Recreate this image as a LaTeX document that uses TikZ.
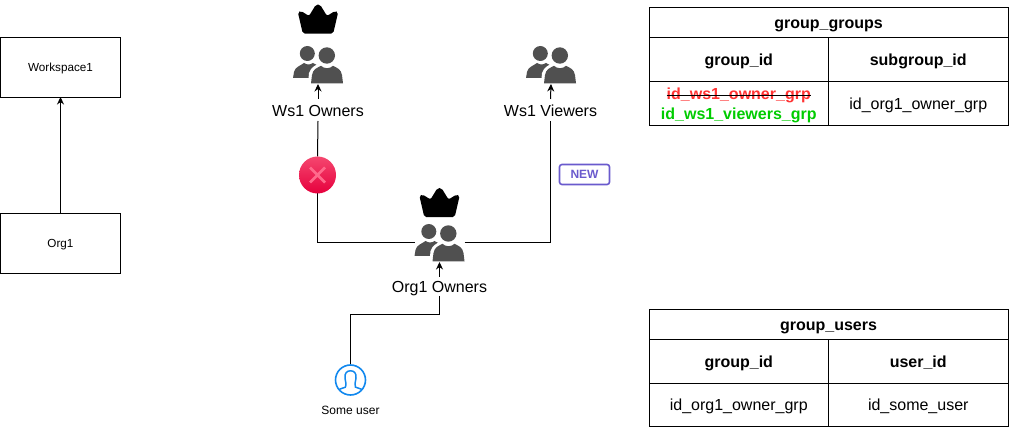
\documentclass[tikz,border=0pt]{standalone}
\usepackage{fontspec}
\setmainfont{Liberation Sans}
\usetikzlibrary{arrows.meta}
\definecolor{usergray}{HTML}{505050}
\definecolor{delred}{HTML}{FF3333}
\definecolor{addgreen}{HTML}{00CC00}
\definecolor{newpurple}{HTML}{6A5ACD}
\definecolor{userblue}{HTML}{1188EE}
\definecolor{xtop}{HTML}{F5476F}
\definecolor{xbottom}{HTML}{E6003D}
\definecolor{xstroke}{HTML}{FF6A8C}
\newcommand{\fs}[1]{\fontsize{#1}{#1}\selectfont}
\newsavebox{\strikebox}
\tikzset{
  x=1pt,y=-1pt,
  every node/.style={inner sep=0pt,outer sep=0pt},
  conn/.style={draw=black,line width=1pt},
  arr/.style={conn,-{Stealth[length=7.5pt,width=7pt]}},
  boxnode/.style={draw=black,line width=0.9pt,minimum width=120pt,minimum height=60pt,font=\fs{11.7},text height=9pt,text depth=0pt},
  lbl/.style={font=\fs{16},text height=13pt,text depth=0pt},
  iconbox/.style={minimum width=50pt,minimum height=38pt},
  cell/.style={draw=black,line width=0.9pt,minimum height=44pt,minimum width=179.5pt,font=\fs{16},text height=15pt,text depth=3pt},
  boldcell/.style={cell,font=\bfseries\fs{16},text height=16pt,text depth=3pt},
  headcell/.style={draw=black,line width=0.9pt,minimum height=30pt,minimum width=359pt,font=\bfseries\fs{16},text height=16pt,text depth=3pt},
  crown/.pic={
    \fill[black,rounded corners=2pt]
      (-15.2,14.6) -- (-20.2,-7) -- (-17,-8) -- (-9,-3) -- (-2,-14.5) -- (2,-14.5) -- (9,-3) -- (17,-8) -- (20.2,-7) -- (15.2,14.6) -- cycle;
  },
  usersicon/.pic={
    \fill[usergray] (-10.7,-11.5) circle (7.5);
    \fill[usergray] (-25,13) -- (-24,7) .. controls (-23,2) and (-18,1) .. (-14,-2) .. controls (-11,0) and (-8,0) .. (-5,-2) .. controls (-1,0) and (3,2) .. (5,6) -- (5,13) -- cycle;
    \fill[white] (8.8,-9.5) circle (10);
    \fill[white] (-10,19) -- (-9,8) .. controls (-7,2) and (-3,1) .. (1,-2) -- (16,-2) .. controls (21,0) and (25,3) .. (27,8) -- (27,19) -- cycle;
    \fill[usergray] (8.8,-9.5) circle (8.2);
    \fill[usergray] (-7,18.3) -- (-6,10) .. controls (-5,4) and (-1,3) .. (3,0.8) .. controls (6,4) and (12,4) .. (15,0.8) .. controls (19,3) and (23,4) .. (24,10) -- (25,18.3) -- cycle;
  }
}
\begin{document}
\begin{tikzpicture}
\useasboundingbox (0,0) rectangle (1009,427);

% left boxes
\node[boxnode] (ws) at (60.5,67) {Workspace1};
\node[boxnode] (org) at (60.5,243) {Org1};
\draw[arr] (org) -- (ws);

% group icons and labels
\node[iconbox] (wsoicon) at (318,65) {};
\node[iconbox] (wsvicon) at (551,65) {};
\node[iconbox] (orgicon) at (439.5,243) {};
\pic at (318,19) {crown};
\pic at (318,65) {usersicon};
\pic at (551,65) {usersicon};
\pic at (439.5,202.5) {crown};
\pic at (439.5,243) {usersicon};

\node[lbl,minimum height=22pt] (wsolbl) at (318,110) {Ws1 Owners};
\node[lbl,minimum height=22pt] (wsvlbl) at (550.5,110) {Ws1 Viewers};
\node[lbl,minimum height=19pt] (orglbl) at (439.5,286.5) {Org1 Owners};

\draw[arr] (wsolbl.north) -- (wsoicon.south);
\draw[arr] (wsvlbl.north) -- (wsvicon.south);
\draw[arr] (orglbl.north) -- (orgicon.south);

% removed link
\node[circle,minimum size=37pt] (xmark) at (317.5,175) {};
\coordinate (cornerL) at (317.5,243);
\coordinate (cornerR) at (550.5,243);
\draw[conn] (wsolbl.south) -- (xmark.north);
\draw[conn] (xmark.south) -- (cornerL) -- (orgicon.west);
\draw[conn] (orgicon.east) -- (cornerR) -- (wsvlbl.south);
\shade[top color=xtop,bottom color=xbottom] (xmark.center) circle (18.5);
\draw[line width=2.8pt,color=xstroke] (310,167.5) -- (325,182.5) (325,167.5) -- (310,182.5);

% new badge
\node[draw=newpurple,line width=1.6pt,rounded corners=2.5pt,minimum width=50pt,minimum height=20pt,text=newpurple,font=\bfseries\fs{12}] (newbadge) at (584.5,174.5) {NEW};

% user
\node[circle,minimum size=31pt] (usr) at (350.5,380) {};
\node[font=\fs{12},anchor=base] (usrlbl) at (350.5,414) {Some user};
\coordinate (userA) at (439.5,315);
\coordinate (userB) at (350.5,315);
\draw[conn] (orglbl.south) -- (userA) -- (userB) -- (usr.north);
\begin{scope}
\clip (350.5,380) circle (15);
\draw[userblue,line width=1.5pt] (345.7,387) .. controls (346.5,384) and (345.5,382) .. (345,378) .. controls (344.5,373) and (347,370.8) .. (350.5,370.8) .. controls (354,370.8) and (356.5,373) .. (356,378) .. controls (355.5,382) and (354.5,384) .. (355.3,387) .. controls (357,388) and (361,388.5) .. (366,391.5);
\draw[userblue,line width=1.5pt] (345.7,387) .. controls (344,388) and (340,388.5) .. (335,391.5);
\end{scope}
\draw[userblue,line width=1.6pt] (usr.center) circle (15);

% table group_groups
\node[headcell] (gghead) at (828.5,22) {group\_groups};
\node[boldcell] (ggc1) at (738.75,59) {group\_id};
\node[boldcell] (ggc2) at (918.25,59) {subgroup\_id};
\node[cell,minimum height=44.3pt] (ggv1) at (738.75,103.2) {};
\node[cell,minimum height=44.3pt] (ggv2) at (918.25,103.2) {id\_org1\_owner\_grp};
\node[anchor=base,font=\bfseries\fs{16}] (ggdel) at (738.75,100) {\sbox{\strikebox}{\textcolor{delred}{id\_ws1\_owner\_grp}}\rlap{\usebox{\strikebox}}\rule[0.25em]{\wd\strikebox}{0.8pt}};
\node[anchor=base,font=\bfseries\fs{16},text=addgreen] (ggadd) at (738.75,120) {id\_ws1\_viewers\_grp};

% table group_users
\node[headcell] (guhead) at (828.5,324) {group\_users};
\node[boldcell] (guc1) at (738.75,361) {group\_id};
\node[boldcell] (guc2) at (918.25,361) {user\_id};
\node[cell,minimum height=43pt] (guv1) at (738.75,404.7) {id\_org1\_owner\_grp};
\node[cell,minimum height=43pt] (guv2) at (918.25,404.7) {id\_some\_user};
\end{tikzpicture}
\end{document}
